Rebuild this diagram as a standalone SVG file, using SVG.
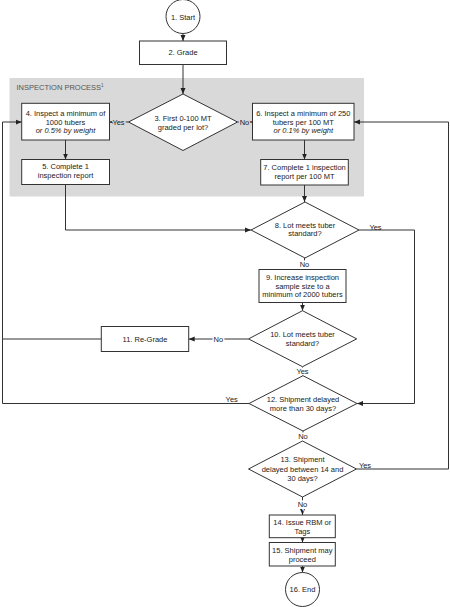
<svg xmlns="http://www.w3.org/2000/svg" width="450" height="607" viewBox="0 0 450 607">
<defs>
<marker id="ah" markerUnits="userSpaceOnUse" markerWidth="6" markerHeight="6" viewBox="0 0 6 6" refX="6" refY="3" orient="auto">
<path d="M0,0.5 L6,3 L0,5.5 Z" fill="#222"/>
</marker>
<style>
.box{fill:#fff;stroke:#333;stroke-width:1}
.t{font-family:"Liberation Sans",Arial,sans-serif;font-size:7.5px;fill:#222;text-anchor:middle}
.it{font-style:italic}
.c{fill:none;stroke:#333;stroke-width:1}
.a{marker-end:url(#ah)}
.lw{stroke:#fff;stroke-width:3;paint-order:stroke}
.lg{stroke:#d9d9d9;stroke-width:3;paint-order:stroke}
</style>
</defs>
<rect width="450" height="607" fill="#fff"/>
<g id="region">
<rect x="9.5" y="78" width="354.5" height="118.5" fill="#d9d9d9"/>
<text x="16.5" y="89.5" style="font-family:'Liberation Sans',Arial,sans-serif;font-size:7.5px;fill:#555">INSPECTION PROCESS<tspan dy="-3" font-size="4.5">1</tspan></text>
</g>
<g id="connectors">
<path class="c a" d="M183,33.5 V41"/>
<path class="c a" d="M183,64.5 V94"/>
<path class="c a" d="M128.5,122 H109.5"/>
<path class="c a" d="M237.5,122 H252.5"/>
<path class="c a" d="M65.5,140 V159.5"/>
<path class="c a" d="M304.5,140 V159.5"/>
<path class="c a" d="M65.5,184.5 V230 H251"/>
<path class="c a" d="M304.5,185 V202"/>
<path class="c a" d="M304.5,258 V269.5"/>
<path class="c a" d="M359,230 H414.5 V403.5 H357"/>
<path class="c a" d="M302.5,302.5 V310.7"/>
<path class="c a" d="M248.5,339 H188.7"/>
<path class="c" d="M101.3,339 H2.5"/>
<path class="c a" d="M302.5,366.7 V375.7"/>
<path class="c a" d="M249,403.5 H2.5 V122 H21.7"/>
<path class="c a" d="M303,431 V441"/>
<path class="c a" d="M356.5,469 H448.5 V122 H354"/>
<path class="c a" d="M302.5,497 V515"/>
<path class="c a" d="M302.5,537.7 V542.5"/>
<path class="c a" d="M302.5,566 V572.5"/>
<text class="t lg" x="118.5" y="124.5">Yes</text>
<text class="t lg" x="244.5" y="124.5">No</text>
<text class="t" x="375.5" y="229.5">Yes</text>
<text class="t lw" x="304.5" y="266.7">No</text>
<text class="t lw" x="218.3" y="341.7">No</text>
<text class="t lw" x="302.5" y="373.7">Yes</text>
<text class="t" x="231.7" y="402">Yes</text>
<text class="t lw" x="303" y="438.5">No</text>
<text class="t" x="365" y="468">Yes</text>
<text class="t lw" x="302.5" y="507">No</text>
</g>
<g id="n1"><circle class="box" cx="183" cy="16.5" r="17"/><text class="t" x="183" y="19.5">1. Start</text></g>
<g id="n2"><rect class="box" x="139.5" y="41" width="87" height="23.5"/><text class="t" x="183" y="55">2. Grade</text></g>
<g id="n3"><path class="box" d="M183,94 L237.5,122 L183,150.5 L128.5,122 Z"/><text class="t" x="183" y="121">3. First 0-100 MT</text><text class="t" x="183" y="130">graded per lot?</text></g>
<g id="n4"><rect class="box" x="21.7" y="103.3" width="87.8" height="36.7"/><text class="t" x="65.5" y="115.5">4. Inspect a minimum of</text><text class="t" x="65.5" y="124.5">1000 tubers</text><text class="t it" x="65.5" y="133.3">or 0.5% by weight</text></g>
<g id="n5"><rect class="box" x="21.7" y="159.5" width="87.8" height="25"/><text class="t" x="65.5" y="168.7">5. Complete 1</text><text class="t" x="65.5" y="178">inspection report</text></g>
<g id="n6"><rect class="box" x="252.5" y="103.3" width="101.5" height="36.7"/><text class="t" x="303.3" y="115.5">6. Inspect a minimum of 250</text><text class="t" x="303.3" y="124.5">tubers per 100 MT</text><text class="t it" x="303.3" y="133.3">or 0.1% by weight</text></g>
<g id="n7"><rect class="box" x="260.7" y="159.5" width="87.6" height="25.5"/><text class="t" x="304.5" y="169.5">7. Complete 1 inspection</text><text class="t" x="304.5" y="178.7">report per 100 MT</text></g>
<g id="n8"><path class="box" d="M305,202 L359,230 L305,258 L251,230 Z"/><text class="t" x="305" y="227.7">8. Lot meets tuber</text><text class="t" x="305" y="236.2">standard?</text></g>
<g id="n9"><rect class="box" x="259" y="269.5" width="87" height="33"/><text class="t" x="302.5" y="279.5">9. Increase inspection</text><text class="t" x="302.5" y="288.5">sample size to a</text><text class="t" x="302.5" y="297.2">minimum of 2000 tubers</text></g>
<g id="n10"><path class="box" d="M302.5,310.7 L356.7,338.9 L302.5,366.7 L248.5,338.9 Z"/><text class="t" x="302.5" y="337">10. Lot meets tuber</text><text class="t" x="302.5" y="346">standard?</text></g>
<g id="n11"><rect class="box" x="101.3" y="326.5" width="87.4" height="25"/><text class="t" x="145" y="341.8">11. Re-Grade</text></g>
<g id="n12"><path class="box" d="M303,375.7 L357,403.5 L303,431 L249,403.5 Z"/><text class="t" x="303" y="402">12. Shipment delayed</text><text class="t" x="303" y="410.5">more than 30 days?</text></g>
<g id="n13"><path class="box" d="M302.5,441 L356.5,469 L302.5,497 L248.5,469 Z"/><text class="t" x="302.5" y="462">13. Shipment</text><text class="t" x="302.5" y="471.5">delayed between 14 and</text><text class="t" x="302.5" y="481">30 days?</text></g>
<g id="n14"><rect class="box" x="269.3" y="515" width="66" height="22.7"/><text class="t" x="302.3" y="524.5">14. Issue RBM or</text><text class="t" x="302.3" y="533.5">Tags</text></g>
<g id="n15"><rect class="box" x="269.3" y="542.5" width="66" height="23.5"/><text class="t" x="302.3" y="552.7">15. Shipment may</text><text class="t" x="302.3" y="561.7">proceed</text></g>
<g id="n16"><circle class="box" cx="302.5" cy="589.5" r="17"/><text class="t" x="302.5" y="592">16. End</text></g>
</svg>
